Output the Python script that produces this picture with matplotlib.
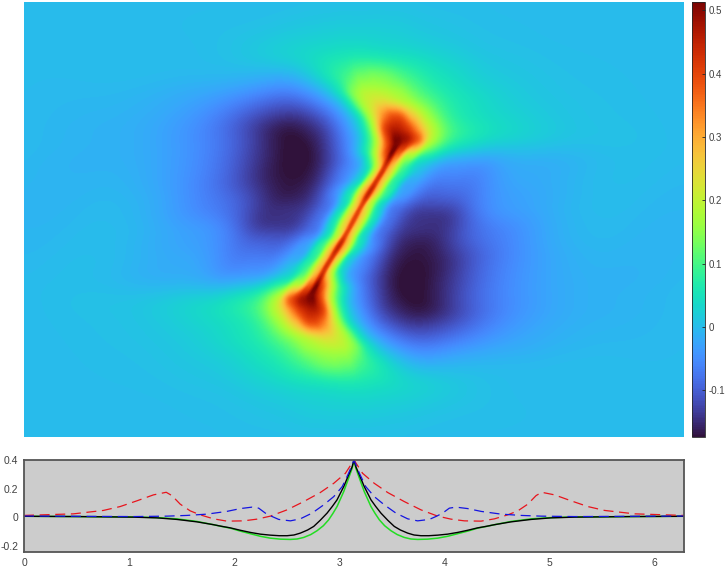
import numpy as np
import matplotlib
matplotlib.use("Agg")
import matplotlib.pyplot as plt
import matplotlib.tri as mtri

plt.rcParams['font.family'] = ['Liberation Sans', 'DejaVu Sans']

W, H = 725, 569
VMIN, VMAX = -0.1735, 0.513

# Field samples. Each row runs along a track that follows the ridge.
row_y = [2, 30, 55, 75, 90, 103, 116, 129, 142, 155, 170, 185, 200, 212]
row_track = [354, 354, 358, 365, 372, 380, 388, 394, 397, 391, 383, 374, 365, 358]
sample_offsets = [-380,-280,-200,-150,-110,-85,-65,-50,-38,-28,-20,-13,-7,-3,0,3,7,13,20,28,38,50,65,85,110,150,200,280,380]
field_rows = [
 [0,0,0,0,0,0,.001,.002,.003,.003,.003,.004,.004,.004,.004,.004,.004,.004,.004,.004,.004,.003,.002,.001,.001,0,0,0,0],
 [0,0,0,.002,.005,.009,.013,.016,.018,.02,.021,.022,.022,.022,.022,.022,.022,.022,.022,.021,.02,.018,.014,.01,.006,.002,0,0,0],
 [0,0,-.001,.002,.012,.022,.03,.037,.043,.048,.052,.055,.058,.059,.06,.06,.06,.058,.056,.052,.047,.041,.035,.026,.016,.007,.002,0,0],
 [0,-.001,-.002,-.004,-.008,-.012,.002,.03,.055,.075,.093,.11,.125,.128,.13,.132,.135,.133,.128,.117,.1,.082,.06,.043,.025,.012,.004,0,0],
 [0,-.003,-.012,-.024,-.045,-.055,-.035,-.005,.035,.085,.135,.165,.182,.185,.187,.187,.185,.18,.168,.155,.128,.097,.073,.05,.032,.015,.005,0,0],
 [0,-.006,-.022,-.055,-.095,-.1,-.07,-.035,.01,.085,.155,.2,.225,.24,.245,.25,.25,.24,.22,.19,.15,.115,.08,.055,.035,.016,.006,0,0],
 [0,-.009,-.035,-.09,-.135,-.135,-.1,-.055,-.005,.07,.16,.24,.31,.345,.365,.38,.385,.37,.31,.25,.18,.12,.075,.05,.035,.018,.006,0,0],
 [0,-.012,-.048,-.115,-.17,-.155,-.115,-.055,-.005,.08,.19,.33,.42,.45,.46,.46,.45,.42,.36,.28,.195,.13,.085,.06,.04,.02,.007,0,0],
 [0,-.012,-.05,-.115,-.175,-.165,-.115,-.06,0,.09,.2,.34,.44,.5,.51,.5,.47,.43,.36,.25,.155,.1,.065,.04,.025,.012,.005,0,0],
 [0,-.012,-.045,-.11,-.17,-.178,-.14,-.09,-.035,.03,.12,.24,.36,.45,.5,.43,.36,.25,.185,.12,.065,.03,0,-.01,-.012,-.008,-.002,0,0],
 [0,-.01,-.04,-.1,-.165,-.175,-.155,-.105,-.065,-.03,.02,.1,.22,.34,.42,.36,.27,.17,.09,.04,0,-.035,-.05,-.055,-.04,-.018,-.006,-.001,0],
 [0,-.008,-.035,-.09,-.15,-.17,-.16,-.12,-.07,-.02,.035,.13,.26,.36,.43,.36,.26,.14,.07,0,-.03,-.06,-.08,-.075,-.055,-.022,-.007,-.002,0],
 [0,-.006,-.025,-.07,-.125,-.16,-.155,-.13,-.085,-.03,.04,.13,.26,.36,.42,.34,.22,.12,.05,-.02,-.055,-.09,-.105,-.1,-.07,-.03,-.01,-.003,0],
 [0,-.005,-.02,-.06,-.115,-.145,-.14,-.125,-.09,-.04,.04,.13,.24,.33,.4,.33,.24,.13,.04,-.04,-.09,-.125,-.14,-.14,-.095,-.035,-.012,-.004,0],
]

# Profile curves for the lower panel, left half; the right half mirrors them about pi.
x_black = [0,.5,1.04,1.265,1.455,1.646,1.805,1.88,1.964,2.06,2.155,2.25,2.345,2.43,2.504,2.57,2.63,2.70,2.758,2.82,2.885,2.935,2.98,3.044,3.09,3.124,3.1416]
y_black = [.006,.004,0,-.005,-.016,-.033,-.053,-.064,-.075,-.092,-.107,-.119,-.126,-.13,-.13,-.125,-.112,-.09,-.065,-.022,.028,.075,.121,.214,.295,.353,.4]
x_green = [0,.5,1.04,1.265,1.455,1.646,1.805,1.88,1.964,2.06,2.155,2.25,2.345,2.44,2.536,2.6,2.663,2.73,2.79,2.85,2.9,2.94,2.98,3.044,3.09,3.124,3.1416]
y_green = [.006,.004,.001,-.003,-.012,-.03,-.053,-.065,-.077,-.098,-.116,-.134,-.147,-.154,-.156,-.153,-.142,-.122,-.095,-.06,-.019,.025,.074,.179,.272,.342,.4]
x_red = [0,.47,.756,.915,1.074,1.233,1.354,1.408,1.487,1.582,1.678,1.805,1.932,2.09,2.218,2.345,2.504,2.663,2.82,2.949,3.06,3.1416]
y_red = [.012,.023,.047,.074,.114,.156,.174,.151,.091,.044,.016,-.012,-.028,-.026,-.014,.007,.051,.109,.172,.237,.307,.4]
x_blue = [0,1.04,1.36,1.55,1.74,1.93,2.06,2.17,2.234,2.298,2.36,2.425,2.536,2.63,2.742,2.853,2.949,3.03,3.09,3.1416]
y_blue = [.008,.004,.007,.012,.021,.04,.06,.07,.063,.028,.005,-.016,-.026,-.012,.028,.086,.144,.214,.307,.4]
x_ticks = [0,1,2,3,4,5,6]
y_ticks = [-.2,0,.2,.4]
y_ticklabels = ['-0.2','0','0.2','0.4']
cbar_ticks = [-.1,0,.1,.2,.3,.4,.5]
cbar_ticklabels = ['-0.1','0','0.1','0.2','0.3','0.4','0.5']

def ax_px(x0, y0, x1, y1):
    return [x0 / W, 1 - y1 / H, (x1 - x0) / W, (y1 - y0) / H]

fig = plt.figure(figsize=(W / 100, H / 100), dpi=100)
fig.patch.set_facecolor('white')

# Field
Z = np.array(field_rows, dtype=float)
Z = np.vstack([Z, Z[::-1, ::-1]])
ry = np.array(row_y, dtype=float); ry = np.concatenate([ry, 439 - ry[::-1]])
rt = np.array(row_track, dtype=float); rt = np.concatenate([rt, 708 - rt[::-1]])
off = np.array(sample_offsets, dtype=float)
X = rt[:, None] + off[None, :]
Y = np.repeat(ry[:, None], off.size, axis=1)
nr, nc = Z.shape
idx = np.arange(nr * nc).reshape(nr, nc)
tris = np.vstack([
    np.c_[idx[:-1, :-1].ravel(), idx[:-1, 1:].ravel(), idx[1:, :-1].ravel()],
    np.c_[idx[:-1, 1:].ravel(), idx[1:, 1:].ravel(), idx[1:, :-1].ravel()],
])
tri = mtri.Triangulation(X.ravel(), Y.ravel(), tris)
interp = mtri.CubicTriInterpolator(tri, Z.ravel(), kind='min_E')
gx, gy = np.meshgrid(np.arange(24, 684) + .5, np.arange(2, 437) + .5)
F = np.ma.filled(interp(gx, gy), 0.0)

# Soften the sampling grain away from the ridge, where the field is broad.
kx = np.arange(-30, 31)
k = np.exp(-kx ** 2 / (2 * 7.0 ** 2)); k /= k.sum()
def blur(A):
    P = np.pad(A, 30, mode='edge')
    P = np.apply_along_axis(lambda r: np.convolve(r, k, mode='same'), 0, P)
    P = np.apply_along_axis(lambda r: np.convolve(r, k, mode='same'), 1, P)
    return P[30:-30, 30:-30]
dist = np.abs(gx - np.interp(gy, ry, rt))
wgt = np.clip((dist - 26) / 24, 0, 1)
F = (1 - wgt) * F + wgt * blur(F)

ax = fig.add_axes(ax_px(24, 2, 684, 437))
im = ax.imshow(F, cmap='turbo', vmin=VMIN, vmax=VMAX, aspect='auto',
               extent=(24, 684, 437, 2), interpolation='bilinear')
ax.axis('off')

# Colour bar
cax = fig.add_axes(ax_px(692, 2, 705, 437))
cb = fig.colorbar(im, cax=cax)
cb.set_ticks(cbar_ticks, labels=cbar_ticklabels)
cb.ax.tick_params(direction='in', length=2.5, width=.6, color='#262626', labelcolor='#404040', labelsize=7, pad=2.5)
cb.outline.set_edgecolor('#262626')
cb.outline.set_linewidth(.6)

# Lower panel
a2 = fig.add_axes(ax_px(24, 460, 684, 552))
a2.set_facecolor('#cccccc')
def both(x, y):
    x = np.asarray(x); y = np.asarray(y)
    return np.r_[x, 2 * np.pi - x[-2::-1]], np.r_[y, y[-2::-1]]
a2.plot(*both(x_green, y_green), color='#22dd22', lw=1.1)
a2.plot(*both(x_black, y_black), color='black', lw=1.0)
a2.plot(*both(x_red, y_red), color='#e8141c', lw=.9, dashes=(8, 4.5))
a2.plot(*both(x_blue, y_blue), color='#1414e0', lw=.9, dashes=(8, 4.5))
a2.set_xlim(0, 2 * np.pi)
a2.set_ylim(-.244, .4)
a2.set_xticks(x_ticks)
a2.set_yticks(y_ticks, labels=y_ticklabels)
a2.tick_params(direction='in', length=0, labelcolor='#404040', labelsize=7.5, pad=4)
for s in a2.spines.values():
    s.set_linewidth(1.3)
    s.set_color('#555555')

fig.savefig('out.png', dpi=100)
